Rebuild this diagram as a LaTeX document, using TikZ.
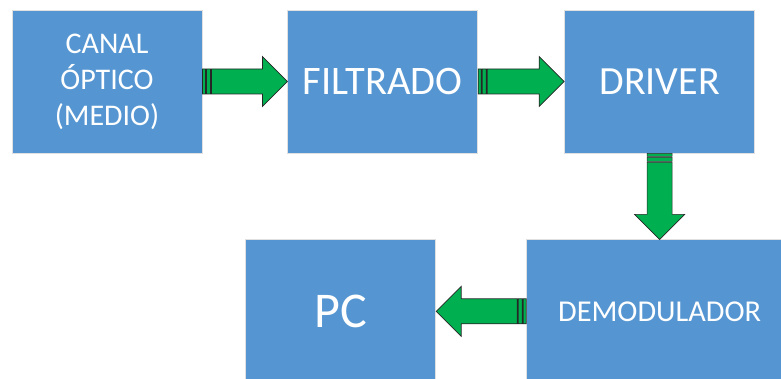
\documentclass[tikz,border=0pt]{standalone}
\usepackage{fontspec}
\setmainfont{Carlito}
\usetikzlibrary{calc,positioning}
\definecolor{blockblue}{RGB}{85,150,210}
\definecolor{arrowgreen}{RGB}{0,176,80}
\tikzset{
    blockbox/.style={rectangle,draw=black!12,line width=0.8pt,fill=blockblue,text=white,align=center,minimum width=190pt,minimum height=143pt,inner sep=0pt},
    widebox/.style={blockbox,minimum width=266pt},
    stripearrow/.style={draw=black!85,line width=0.7pt,fill=arrowgreen,line join=miter,
        to path={let \p1=($(\tikztotarget)-(\tikztostart)$),\n1={veclen(\x1,\y1)},\n2={atan2(\y1,\x1)} in
            [shift={(\tikztostart)},rotate=\n2]
            (0,-12.5) rectangle (3,12.5)
            (4,-12.5) rectangle (8,12.5)
            (9,-12.5) -- (\n1-25,-12.5) -- (\n1-25,-25) -- (\n1,0) -- (\n1-25,25) -- (\n1-25,12.5) -- (9,12.5) -- cycle}}
}

\begin{document}
\begin{tikzpicture}[x=1pt,y=1pt,node distance=85pt]
            \useasboundingbox (0,0) rectangle (781,-379);
            \clip (0,0) rectangle (781,-379);
            \node[blockbox,font=\fontsize{30}{36}\selectfont] (canal) at (107,-81.5) {CANAL\\ÓPTICO\\(MEDIO)};
            \node[blockbox,font=\fontsize{40.5}{42}\selectfont,right=85pt of canal] (filtrado) {FILTRADO};
            \node[blockbox,font=\fontsize{40}{42}\selectfont,right=86pt of filtrado] (driver) {DRIVER};
            \node[widebox,font=\fontsize{30.3}{34}\selectfont,below=86pt of driver] (demod) {DEMODULADOR};
            \node[blockbox,font=\fontsize{50}{52}\selectfont,left=90pt of demod] (pc) {PC};
            \draw[stripearrow] (canal.east) to (filtrado.west);
            \draw[stripearrow] (filtrado.east) to (driver.west);
            \draw[stripearrow] (driver.south) to (demod.north);
            \draw[stripearrow] (demod.west) to (pc.east);
        \end{tikzpicture}
\end{document}
